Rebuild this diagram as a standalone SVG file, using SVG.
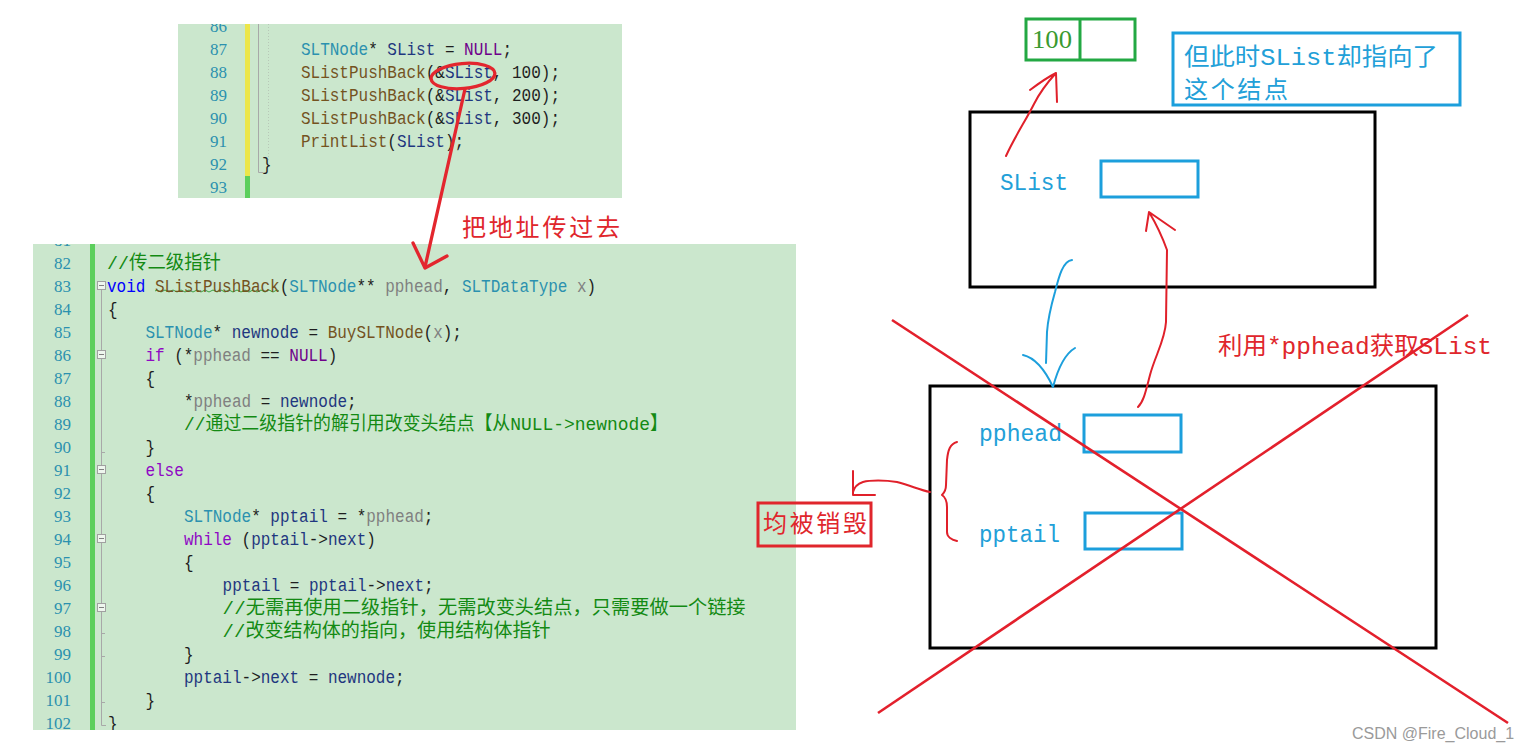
<svg xmlns="http://www.w3.org/2000/svg" width="1533" height="752" viewBox="0 0 1533 752">
<style>
.bg{fill:#cbe7cd}
.ln{font-family:"Liberation Serif",serif;font-size:17px;fill:#2b91af;text-anchor:end}
.code{font-family:"Liberation Mono","Noto Sans CJK SC",monospace;font-size:19px;fill:#1e1e1e}
.t{fill:#2b91af}.f{fill:#74531f}.v{fill:#1f377f}.p{fill:#808080}.m{fill:#6f008a}.k{fill:#0000ff}.c{fill:#8f08c4}.g{fill:#138a13}
.guide{stroke:#a8a8a8;stroke-width:1;fill:none}
.fold{stroke:#a0a0a0;stroke-width:1;fill:#eef6ee}
.blk{fill:none;stroke:#000;stroke-width:3}
.bbox{fill:none;stroke:#1c9fdc;stroke-width:3}
.blue{font-family:"Liberation Mono","Noto Sans CJK SC",monospace;font-size:23px;fill:#22a0d8}
.bluec{font-family:"Liberation Mono","Noto Sans CJK SC",monospace;font-size:24px;fill:#22a0d8}
.redt{font-family:"Liberation Mono","Noto Sans CJK SC",monospace;font-size:24px;fill:#e0262c}
.rs{fill:none;stroke:#e0202a;stroke-width:2;stroke-linecap:round;stroke-linejoin:round}
.bs{fill:none;stroke:#1c9fdc;stroke-width:2;stroke-linecap:round;stroke-linejoin:round}
.x{stroke:#e3202c;stroke-width:2.6;fill:none}
</style>
<defs>
<clipPath id="clipTop"><rect x="178" y="24" width="444" height="174"/></clipPath>
<clipPath id="clipBot"><rect x="33" y="244" width="763" height="486"/></clipPath>
</defs>
<rect x="0" y="0" width="1533" height="752" fill="#fff"/>

<g id="code-top" clip-path="url(#clipTop)">
<rect class="bg" x="178" y="24" width="444" height="174"/>
<rect x="245" y="24" width="5" height="152" fill="#ece64a"/>
<rect x="245" y="176" width="5" height="22" fill="#5ccf5c"/>
<path class="guide" d="M258.5,18 V172.5 H263"/>
<path d="M268.5,18 V160" stroke="#b8c8b8" stroke-width="1" stroke-dasharray="1,2" fill="none"/>
<text class="ln" x="227" y="32">86</text>
<text class="ln" x="227" y="55">87</text>
<text class="ln" x="227" y="78">88</text>
<text class="ln" x="227" y="101">89</text>
<text class="ln" x="227" y="124">90</text>
<text class="ln" x="227" y="147">91</text>
<text class="ln" x="227" y="170">92</text>
<text class="ln" x="227" y="193">93</text>
<text class="code" transform="translate(301,55) scale(0.842,1)"><tspan class="t">SLTNode</tspan>* <tspan class="v">SList</tspan> = <tspan class="m">NULL</tspan>;</text>
<text class="code" transform="translate(301,78) scale(0.842,1)"><tspan class="f">SListPushBack</tspan>(&amp;<tspan class="v">SList</tspan>, 100);</text>
<text class="code" transform="translate(301,101) scale(0.842,1)"><tspan class="f">SListPushBack</tspan>(&amp;<tspan class="v">SList</tspan>, 200);</text>
<text class="code" transform="translate(301,124) scale(0.842,1)"><tspan class="f">SListPushBack</tspan>(&amp;<tspan class="v">SList</tspan>, 300);</text>
<text class="code" transform="translate(301,147) scale(0.842,1)"><tspan class="f">PrintList</tspan>(<tspan class="v">SList</tspan>);</text>
<text class="code" transform="translate(262,170) scale(0.842,1)">}</text>
</g>

<g id="code-bottom" clip-path="url(#clipBot)">
<rect class="bg" x="33" y="244" width="763" height="486"/>
<rect x="90" y="244" width="5" height="486" fill="#5ccf5c"/>
<path class="guide" d="M101.5,290 V725.5 H106 M101.5,452.5 H105 M101.5,633.5 H105 M101.5,656.5 H105 M101.5,702.5 H105"/>
<g class="fold">
<rect x="97.5" y="281.5" width="8" height="8"/>
<rect x="97.5" y="350.5" width="8" height="8"/>
<rect x="97.5" y="465.5" width="8" height="8"/>
<rect x="97.5" y="534.5" width="8" height="8"/>
<rect x="97.5" y="603.5" width="8" height="8"/>
</g>
<path d="M99,285.5 H104 M99,354.5 H104 M99,469.5 H104 M99,538.5 H104 M99,607.5 H104" stroke="#808080" stroke-width="1"/>
<path d="M155,291 q2,-2 4,0 t4,0 t4,0 t4,0 t4,0 t4,0 t4,0 t4,0 t4,0 t4,0 t4,0 t4,0 t4,0 t4,0 t4,0 t4,0 t4,0 t4,0 t4,0 t4,0 t4,0 t4,0 t4,0 t4,0 t4,0 t4,0 t4,0 t4,0 t4,0 t4,0 t4,0" stroke="#3aa040" stroke-width="1" fill="none"/>
<text class="ln" x="71" y="246">81</text>
<text class="ln" x="71" y="269">82</text>
<text class="ln" x="71" y="292">83</text>
<text class="ln" x="71" y="315">84</text>
<text class="ln" x="71" y="338">85</text>
<text class="ln" x="71" y="361">86</text>
<text class="ln" x="71" y="384">87</text>
<text class="ln" x="71" y="407">88</text>
<text class="ln" x="71" y="430">89</text>
<text class="ln" x="71" y="453">90</text>
<text class="ln" x="71" y="476">91</text>
<text class="ln" x="71" y="499">92</text>
<text class="ln" x="71" y="522">93</text>
<text class="ln" x="71" y="545">94</text>
<text class="ln" x="71" y="568">95</text>
<text class="ln" x="71" y="591">96</text>
<text class="ln" x="71" y="614">97</text>
<text class="ln" x="71" y="637">98</text>
<text class="ln" x="71" y="660">99</text>
<text class="ln" x="71" y="683">100</text>
<text class="ln" x="71" y="706">101</text>
<text class="ln" x="71" y="729">102</text>
<text class="code g" x="107" y="269" textLength="114" lengthAdjust="spacingAndGlyphs">//传二级指针</text>
<text class="code" transform="translate(107,292) scale(0.842,1)"><tspan class="k">void</tspan> <tspan class="f">SListPushBack</tspan>(<tspan class="t">SLTNode</tspan>** <tspan class="p">pphead</tspan>, <tspan class="t">SLTDataType</tspan> <tspan class="p">x</tspan>)</text>
<text class="code" transform="translate(108,315) scale(0.842,1)">{</text>
<text class="code" transform="translate(145.4,338) scale(0.842,1)"><tspan class="t">SLTNode</tspan>* <tspan class="v">newnode</tspan> = <tspan class="f">BuySLTNode</tspan>(<tspan class="p">x</tspan>);</text>
<text class="code" transform="translate(145.4,361) scale(0.842,1)"><tspan class="c">if</tspan> (*<tspan class="p">pphead</tspan> == <tspan class="m">NULL</tspan>)</text>
<text class="code" transform="translate(145.4,384) scale(0.842,1)">{</text>
<text class="code" transform="translate(184,407) scale(0.842,1)">*<tspan class="p">pphead</tspan> = <tspan class="v">newnode</tspan>;</text>
<text class="code g" x="184" y="430" textLength="484" lengthAdjust="spacingAndGlyphs">//通过二级指针的解引用改变头结点【从NULL-&gt;newnode】</text>
<text class="code" transform="translate(145.4,453) scale(0.842,1)">}</text>
<text class="code c" transform="translate(145.4,476) scale(0.842,1)">else</text>
<text class="code" transform="translate(145.4,499) scale(0.842,1)">{</text>
<text class="code" transform="translate(184,522) scale(0.842,1)"><tspan class="t">SLTNode</tspan>* <tspan class="v">pptail</tspan> = *<tspan class="p">pphead</tspan>;</text>
<text class="code" transform="translate(184,545) scale(0.842,1)"><tspan class="c">while</tspan> (<tspan class="v">pptail</tspan>-&gt;<tspan class="v">next</tspan>)</text>
<text class="code" transform="translate(184,568) scale(0.842,1)">{</text>
<text class="code" transform="translate(222.6,591) scale(0.842,1)"><tspan class="v">pptail</tspan> = <tspan class="v">pptail</tspan>-&gt;<tspan class="v">next</tspan>;</text>
<text class="code g" x="222.6" y="614" textLength="523" lengthAdjust="spacingAndGlyphs">//无需再使用二级指针，无需改变头结点，只需要做一个链接</text>
<text class="code g" x="222.6" y="637" textLength="328" lengthAdjust="spacingAndGlyphs">//改变结构体的指向，使用结构体指针</text>
<text class="code" transform="translate(184,660) scale(0.842,1)">}</text>
<text class="code" transform="translate(184,683) scale(0.842,1)"><tspan class="v">pptail</tspan>-&gt;<tspan class="v">next</tspan> = <tspan class="v">newnode</tspan>;</text>
<text class="code" transform="translate(145.4,706) scale(0.842,1)">}</text>
<text class="code" transform="translate(108,729) scale(0.842,1)">}</text>
</g>

<g id="node-100">
<rect x="1026" y="19" width="109" height="41" fill="none" stroke="#23a843" stroke-width="3"/>
<line x1="1080" y1="19" x2="1080" y2="60" stroke="#23a843" stroke-width="3"/>
<text x="1032" y="48" font-family="Liberation Serif,serif" font-size="25" fill="#3a9a30" textLength="40" lengthAdjust="spacingAndGlyphs">100</text>
</g>

<g id="note-slist">
<rect class="bbox" x="1173" y="33" width="287" height="72"/>
<text class="bluec" x="1184" y="65" textLength="254" lengthAdjust="spacingAndGlyphs">但此时SList却指向了</text>
<text class="bluec" x="1184" y="98" textLength="104" lengthAdjust="spacing">这个结点</text>
</g>

<g id="frame-slist">
<rect class="blk" x="970" y="112" width="405" height="175"/>
<text class="blue" x="1000" y="190" textLength="68" lengthAdjust="spacingAndGlyphs">SList</text>
<rect class="bbox" x="1101" y="161" width="97" height="36"/>
</g>

<g id="frame-func">
<rect class="blk" x="930" y="386" width="506" height="262"/>
<text class="blue" x="979" y="441" textLength="83" lengthAdjust="spacingAndGlyphs">pphead</text>
<rect class="bbox" x="1084" y="415" width="97" height="37"/>
<text class="blue" x="979" y="542" textLength="81" lengthAdjust="spacingAndGlyphs">pptail</text>
<rect class="bbox" x="1085" y="513" width="97" height="36"/>
</g>

<g id="label-destroyed">
<rect x="758" y="503" width="113" height="43" fill="none" stroke="#e0262c" stroke-width="3"/>
<text class="redt" x="763" y="532" textLength="104" lengthAdjust="spacing">均被销毁</text>
</g>

<g id="labels">
<text class="redt" x="462" y="236" font-size="23" textLength="158" lengthAdjust="spacing">把地址传过去</text>
<text class="redt" x="1218" y="354" textLength="274" lengthAdjust="spacingAndGlyphs">利用*pphead获取SList</text>
<text x="1352" y="739" font-family="Liberation Sans,sans-serif" font-size="16" fill="#9a9a9a">CSDN @Fire_Cloud_1</text>
</g>

<g id="connectors">
<ellipse cx="463" cy="76" rx="32" ry="12.5" transform="rotate(-5 463 76)" fill="none" stroke="#e3262e" stroke-width="3.3"/>
<path d="M465,89 L425,267 M413,243 L425,268 L447,256" fill="none" stroke="#e3262e" stroke-width="3.3" stroke-linecap="round" stroke-linejoin="round"/>
<path class="rs" d="M1006,156 C1014,138 1026,120 1034,104 C1038,96 1046,84 1056,73 M1030,90 C1038,84 1046,78 1056,73 M1057,102 L1056,73"/>
<path class="rs" d="M1138,407 C1144,401 1146,390 1150,375 C1155,356 1165,340 1166,322 L1167,250 C1162,236 1155,222 1149,212 M1146,231 L1149,212 L1175,230"/>
<path class="bs" d="M1072,260 C1063,261 1059,276 1055,292 C1051,306 1048,318 1047,332 L1046,363 M1023,355 C1036,358 1046,372 1053,387 C1057,372 1063,355 1075,348"/>
<path class="rs" d="M957,442 C950,444 948,450 947,460 L946,485 C946,490 944,493 942,495 C945,497 947,500 947,507 L947,532 C947,537 952,540 957,541"/>
<path class="rs" d="M930,492 C920,490 912,486 897,482 C885,480 870,480 863,482 C857,484 854,488 853,492 M853,471 L853,495 L875,495"/>
</g>

<g id="cross">
<line class="x" x1="892" y1="320" x2="1508" y2="723"/>
<line class="x" x1="878" y1="713" x2="1468" y2="315"/>
</g>
</svg>
